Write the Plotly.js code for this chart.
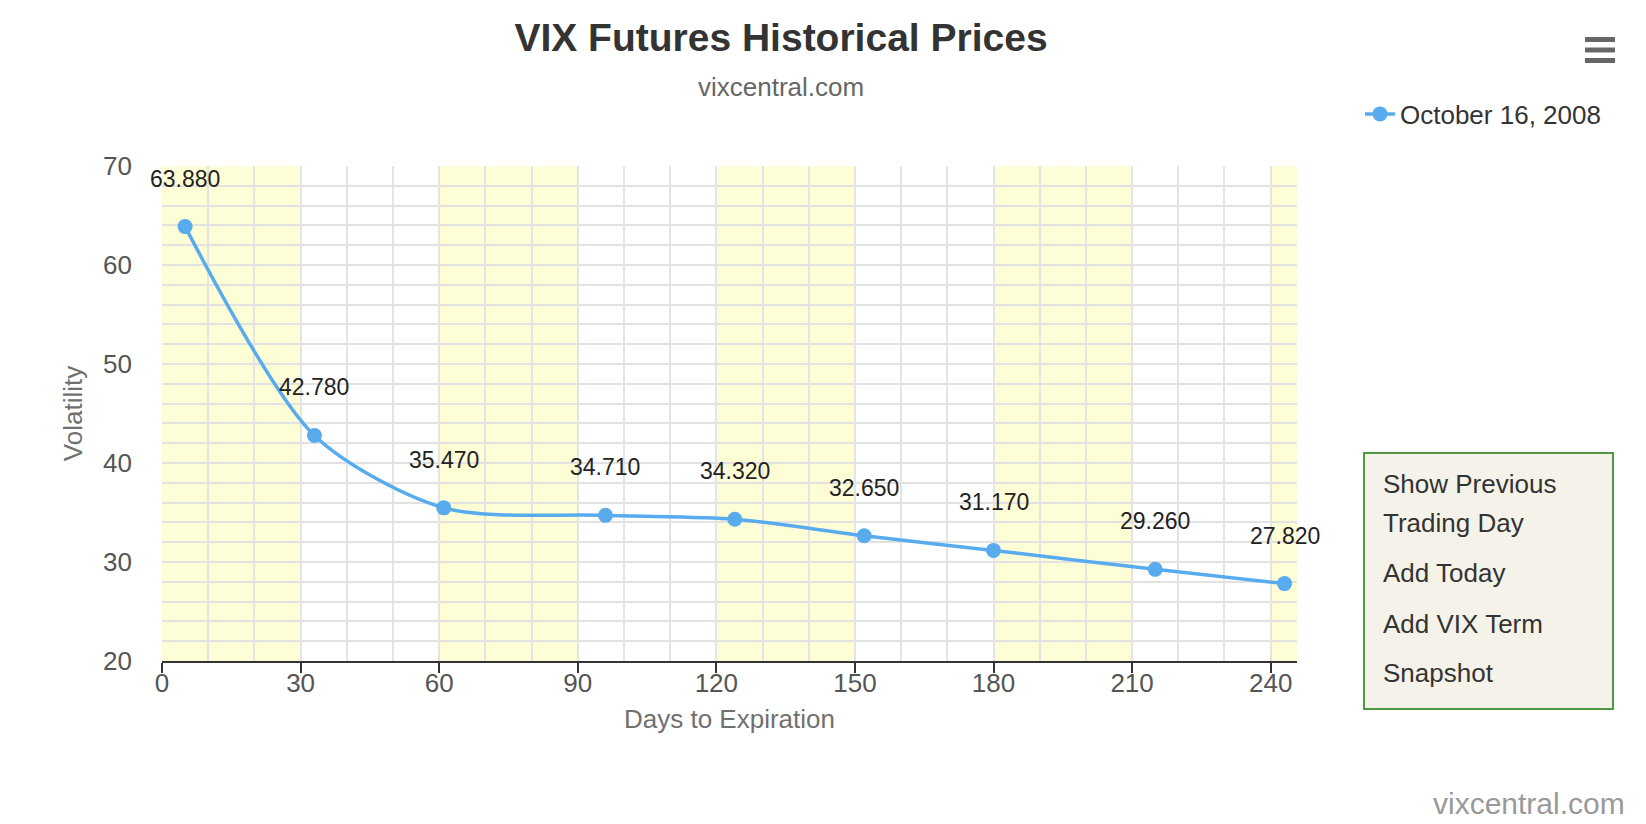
<!DOCTYPE html>
<html>
<head>
<meta charset="utf-8">
<script src="https://cdn.plot.ly/plotly-3.0.1.min.js"></script>
<style>
  html, body { margin: 0; padding: 0; background: #fff; }
  #chart { width: 1646px; height: 824px; }
</style>
</head>
<body>
<div id="chart"></div>
<script>
// ---- data ----
const seriesName = 'October 16, 2008';
const days = [5, 33, 61, 96, 124, 152, 180, 215, 243];
const prices = [63.88, 42.78, 35.47, 34.71, 34.32, 32.65, 31.17, 29.26, 27.82];
const xTickVals = [0, 30, 60, 90, 120, 150, 180, 210, 240];
const yTickVals = [20, 30, 40, 50, 60, 70];
const bandStarts = [0, 60, 120, 180, 240];
const menuItems = ['Show Previous', 'Trading Day', 'Add Today', 'Add VIX Term', 'Snapshot'];

// ---- layout geometry (pixels) ----
const W = 1646, H = 824;
const plotL = 162, plotR = 1297, plotT = 166, plotB = 661;
const xMax = 245.7;
const px = x => (x - plotL) / (plotR - plotL);
const py = y => (plotB - y) / (plotB - plotT);
const FONT = 'Liberation Sans, Arial, sans-serif';

const shapes = [];
bandStarts.forEach(s => {
  shapes.push({
    type: 'rect', xref: 'x', yref: 'paper', layer: 'below',
    x0: s, x1: Math.min(s + 30, xMax), y0: 0, y1: 1,
    fillcolor: '#fdfdd6', line: { width: 0 }
  });
});
// hamburger icon
[39.5, 50, 60.5].forEach(y => {
  shapes.push({
    type: 'line', xref: 'paper', yref: 'paper',
    x0: px(1585), x1: px(1615), y0: py(y), y1: py(y),
    line: { color: '#666666', width: 5 }
  });
});
// menu box
shapes.push({
  type: 'rect', xref: 'paper', yref: 'paper',
  x0: px(1364), x1: px(1613), y0: py(709), y1: py(453),
  fillcolor: '#f4f2e9', line: { color: '#4f9a40', width: 2 }
});

const annotations = [];
days.forEach((d, i) => {
  annotations.push({
    x: d, y: prices[i], xref: 'x', yref: 'y',
    text: prices[i].toFixed(3), showarrow: false, yshift: 48,
    font: { family: FONT, size: 23, color: '#222222' }
  });
});
annotations.push({
  xref: 'paper', yref: 'paper', x: px(781), y: py(87),
  xanchor: 'center', yanchor: 'middle', showarrow: false,
  text: 'vixcentral.com', font: { family: FONT, size: 26, color: '#666666' }
});
const menuY = [484, 523, 573, 623.5, 673];
menuItems.forEach((t, i) => {
  annotations.push({
    xref: 'paper', yref: 'paper', x: px(1381), y: py(menuY[i]),
    xanchor: 'left', yanchor: 'middle', showarrow: false,
    text: t, font: { family: FONT, size: 26, color: '#333333' }
  });
});
annotations.push({
  xref: 'paper', yref: 'paper', x: px(1627), y: py(804),
  xanchor: 'right', yanchor: 'middle', showarrow: false,
  text: 'vixcentral.com', font: { family: FONT, size: 30, color: '#999999' }
});

const trace = {
  x: days, y: prices, name: seriesName, type: 'scatter', mode: 'lines+markers',
  line: { color: '#58acee', width: 3.5, shape: 'spline', smoothing: 0.8 },
  marker: { color: '#58acee', size: 15 },
  showlegend: true, hoverinfo: 'x+y'
};

const layout = {
  width: W, height: H,
  paper_bgcolor: '#ffffff', plot_bgcolor: 'rgba(0,0,0,0)',
  margin: { l: plotL, r: W - plotR, t: plotT, b: H - plotB, pad: 0 },
  font: { family: FONT, size: 26, color: '#555555' },
  title: {
    text: 'VIX Futures Historical Prices',
    font: { family: FONT, size: 39, color: '#333333', weight: 'bold' },
    xref: 'container', yref: 'container', x: 781 / W, y: 1 - 37 / H,
    xanchor: 'center', yanchor: 'middle'
  },
  xaxis: {
    range: [0, xMax], tickvals: xTickVals, ticktext: xTickVals.map(String),
    showgrid: true, gridcolor: '#e4e4e4', gridwidth: 1.5,
    minor: { dtick: 10, tick0: 0, showgrid: true, gridcolor: '#e4e4e4', gridwidth: 1.5, ticks: '' },
    zeroline: false, showline: true, linecolor: '#333333', linewidth: 2,
    ticks: 'outside', ticklen: 10, tickwidth: 2, tickcolor: '#333333',
    ticklabelstandoff: -12,
    tickfont: { family: FONT, size: 26, color: '#555555' },
    title: { text: 'Days to Expiration', font: { family: FONT, size: 26, color: '#707070' }, standoff: 13 },
    fixedrange: true
  },
  yaxis: {
    range: [20, 70], tickvals: yTickVals, ticktext: yTickVals.map(String),
    showgrid: true, gridcolor: '#e2e2e2', gridwidth: 2,
    minor: { dtick: 2, tick0: 20, showgrid: true, gridcolor: '#e2e2e2', gridwidth: 2, ticks: '' },
    zeroline: false, showline: false, ticks: '', ticklabelstandoff: 29,
    tickfont: { family: FONT, size: 26, color: '#555555' },
    title: { text: 'Volatility', font: { family: FONT, size: 26, color: '#707070' }, standoff: 12 },
    fixedrange: true
  },
  showlegend: true,
  legend: {
    x: px(1360), y: py(114), xanchor: 'left', yanchor: 'middle',
    bgcolor: 'rgba(0,0,0,0)', borderwidth: 0,
    font: { family: FONT, size: 26, color: '#333333' }
  },
  shapes: shapes,
  annotations: annotations
};

Plotly.newPlot('chart', [trace], layout, { displayModeBar: false, staticPlot: false });
</script>
</body>
</html>
